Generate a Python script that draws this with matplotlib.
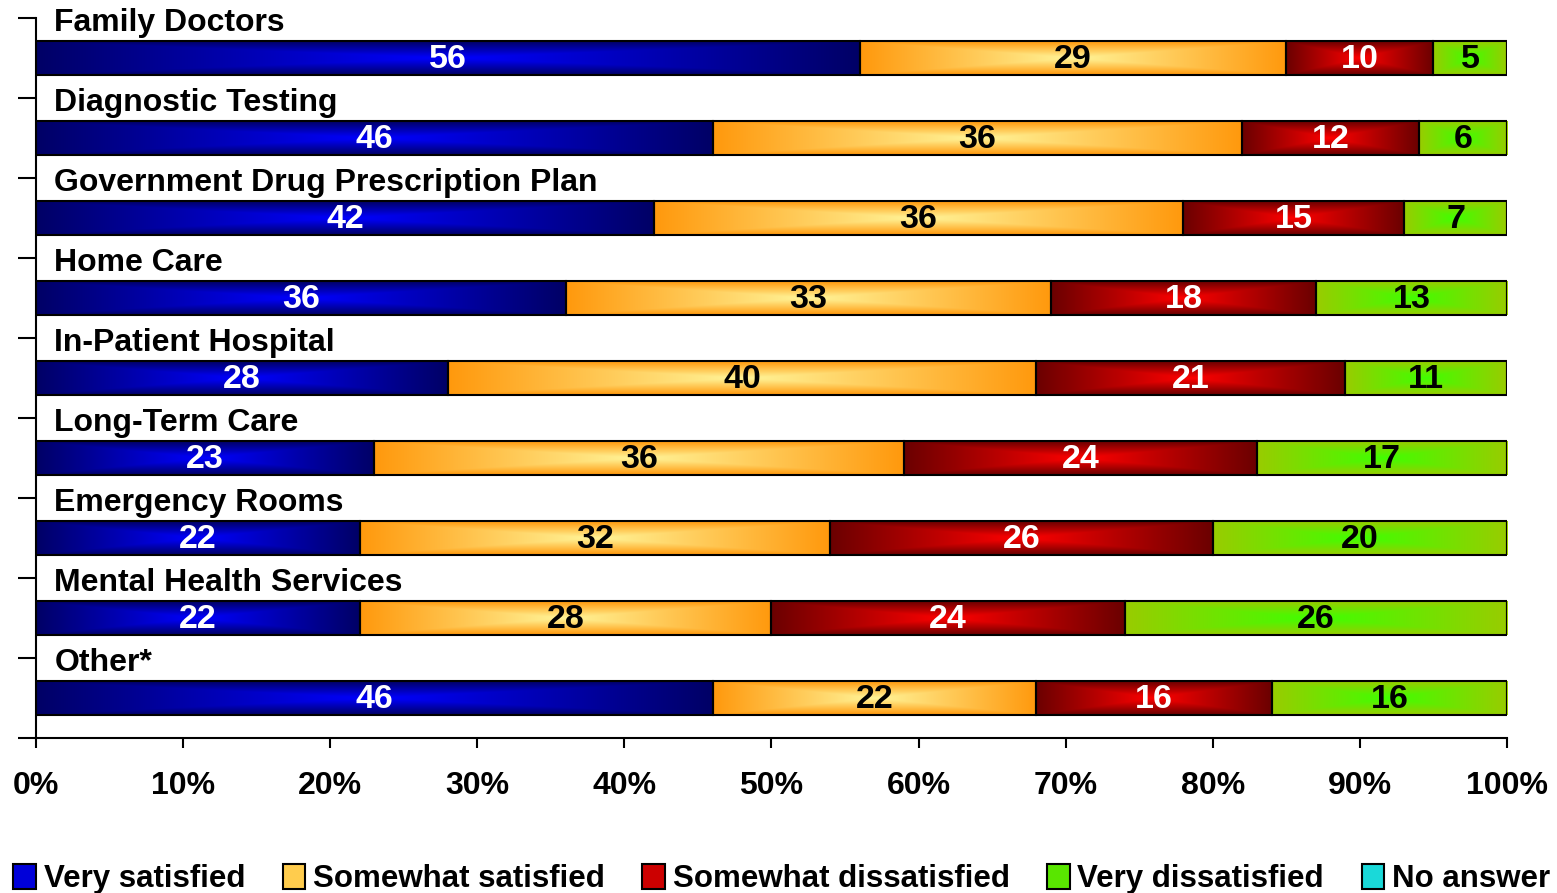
import numpy as np
import matplotlib.pyplot as plt
from matplotlib.patches import Patch
from matplotlib.ticker import PercentFormatter

plt.rcParams['font.family'] = ['Liberation Sans', 'DejaVu Sans']
plt.rcParams['font.weight'] = 'bold'

categories = ['Family Doctors', 'Diagnostic Testing', 'Government Drug Prescription Plan',
              'Home Care', 'In-Patient Hospital', 'Long-Term Care', 'Emergency Rooms',
              'Mental Health Services', 'Other*']
very_sat = [56, 46, 42, 36, 28, 23, 22, 22, 46]
somewhat_sat = [29, 36, 36, 33, 40, 36, 32, 28, 22]
somewhat_dis = [10, 12, 15, 18, 21, 24, 26, 24, 16]
very_dis = [5, 6, 7, 13, 11, 17, 20, 26, 16]
no_answer = [0, 0, 0, 0, 0, 0, 0, 0, 0]
series_names = ['Very satisfied', 'Somewhat satisfied', 'Somewhat dissatisfied',
                'Very dissatisfied', 'No answer']

series = [very_sat, somewhat_sat, somewhat_dis, very_dis, no_answer]
# edge colour -> centre colour of each rectangular gradient fill
fills = [((0.0, 0.0, 0.4), (0.0, 0.0, 1.0)),
         ((1.0, 0.6, 0.05), (1.0, 0.96, 0.6)),
         ((0.42, 0.0, 0.0), (1.0, 0.0, 0.0)),
         ((0.6, 0.8, 0.0), (0.25, 1.0, 0.0)),
         ((0.0, 0.6, 0.65), (0.3, 1.0, 1.0))]
text_cols = ['white', 'black', 'white', 'black', 'black']
legend_cols = [(0.0, 0.0, 0.85), (1.0, 0.8, 0.3), (0.8, 0.0, 0.0), (0.35, 0.9, 0.0), (0.1, 0.85, 0.85)]


def gradient(edge, centre, nx=300, ny=40):
    u = np.abs(np.linspace(-1, 1, nx))
    v = np.abs(np.linspace(-1, 1, ny))
    t = np.maximum(u[None, :], v[:, None])[..., None]
    return np.array(centre) * (1 - t) + np.array(edge) * t


fig = plt.figure(figsize=(15.57, 8.93), dpi=100)
ax = fig.add_axes([0.0231, 0.1736, 0.9448, 0.8062])

y = np.arange(len(categories))
h = 0.425
left = np.zeros(len(categories))
for vals, (edge, centre), tc in zip(series, fills, text_cols):
    vals = np.array(vals, dtype=float)
    for i in y:
        if vals[i] <= 0:
            continue
        ax.imshow(gradient(edge, centre), extent=(left[i], left[i] + vals[i], i + h / 2, i - h / 2),
                  aspect='auto', interpolation='bilinear', zorder=1)
        ax.text(left[i] + vals[i] / 2, i + 0.02, f'{vals[i]:.0f}', color=tc, fontsize=24.5,
                fontweight='bold', ha='center', va='center', zorder=3)
    ax.barh(y, vals, left=left, height=h, facecolor='none', edgecolor='black', linewidth=1.5, zorder=2)
    left += vals

for i, name in enumerate(categories):
    ax.text(1.25, i - 0.34, name, fontsize=23, fontweight='bold', va='baseline', ha='left')

ax.set_xlim(0, 100)
ax.set_ylim(len(categories) - 0.5, -0.5)
ax.set_xticks(np.arange(0, 101, 10))
ax.xaxis.set_major_formatter(PercentFormatter(decimals=0))
ax.set_yticks(np.arange(len(categories) + 1) - 0.5)
ax.set_yticklabels([])
ax.tick_params(axis='y', length=13, width=1.5, direction='out')
ax.tick_params(axis='x', length=7, width=1.5, direction='out', labelsize=23, pad=17)
for lab in ax.get_xticklabels():
    lab.set_fontweight('bold')
ax.spines['top'].set_visible(False)
ax.spines['right'].set_visible(False)
ax.spines['left'].set_linewidth(1.5)
ax.spines['bottom'].set_linewidth(1.5)

handles = [Patch(facecolor=c, edgecolor='black', linewidth=1.5) for c in legend_cols]
fig.legend(handles, series_names, loc='lower center', bbox_to_anchor=(0.502, -0.033), ncol=5,
           frameon=False, prop={'size': 22.5, 'weight': 'bold'}, handlelength=0.72, handleheight=0.85,
           handletextpad=0.25, columnspacing=1.2)

fig.savefig('out.png', dpi=100)
